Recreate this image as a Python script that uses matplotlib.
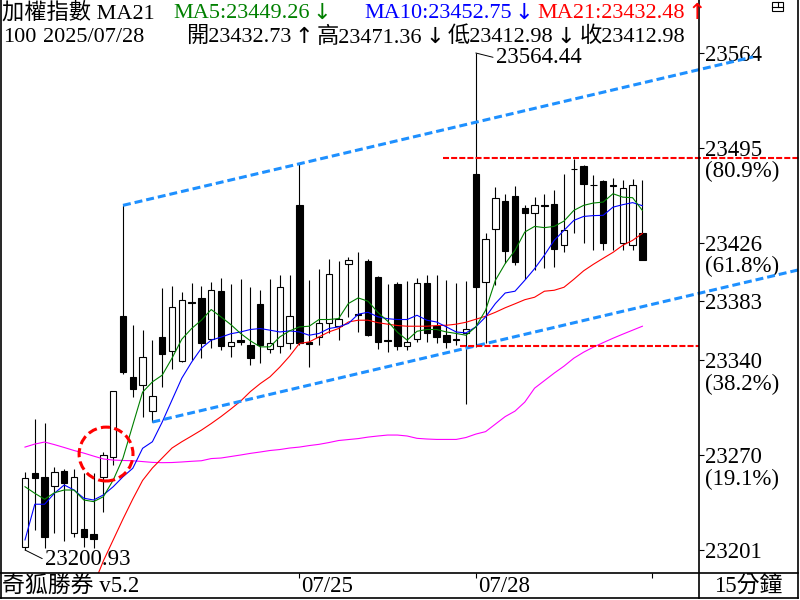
import matplotlib
matplotlib.use("Agg")
import matplotlib.pyplot as plt
import numpy as np
from matplotlib.lines import Line2D
from matplotlib.patches import Ellipse, Rectangle

plt.rcParams['font.family'] = ['Liberation Serif', 'Noto Sans CJK TC', 'DejaVu Sans']

# 15-minute candles, 64 bars
opens = [23203.2, 23257.2, 23254.3, 23247.7, 23258.7, 23213.4, 23216.3, 23212.7, 23254.3, 23268.9,
         23371.9, 23327.3, 23321.5, 23302.5, 23356.6, 23346.7, 23339.4, 23382.5, 23385.0, 23355.1,
         23390.2, 23350.0, 23354.4, 23350.7, 23381.2, 23348.3, 23350.0, 23352.0, 23453.0, 23352.9,
         23356.8, 23366.6, 23364.8, 23410.4, 23373.9, 23412.1, 23400.6, 23354.4, 23395.8, 23350.2,
         23355.6, 23396.5, 23364.6, 23358.0, 23354.9, 23359.3, 23475.6, 23397.0, 23436.0, 23455.9,
         23459.6, 23451.3, 23447.4, 23453.5, 23453.7, 23424.3, 23479.8, 23481.5, 23468.1, 23470.5,
         23467.6, 23425.7, 23424.3, 23432.73]
highs = [23258.0, 23296.7, 23293.8, 23261.6, 23260.2, 23260.2, 23257.2, 23257.2, 23272.6, 23317.5,
         23453.0, 23365.3, 23361.7, 23354.4, 23392.4, 23393.8, 23389.4, 23396.0, 23393.8, 23396.7,
         23399.7, 23395.3, 23399.5, 23393.3, 23390.9, 23399.5, 23401.9, 23401.9, 23483.4, 23398.2,
         23406.7, 23413.5, 23412.3, 23415.2, 23418.9, 23413.5, 23401.3, 23395.3, 23397.0, 23397.7,
         23399.9, 23401.9, 23401.9, 23398.2, 23396.3, 23397.5, 23564.44, 23432.8, 23466.3, 23461.5,
         23466.9, 23453.0, 23459.1, 23461.5, 23464.4, 23476.1, 23487.1, 23482.2, 23475.4, 23471.8,
         23472.9, 23471.2, 23472.5, 23471.36]
lows = [23200.93, 23215.6, 23202.5, 23213.4, 23207.6, 23210.5, 23203.2, 23202.5, 23228.7, 23263.1,
        23329.5, 23312.7, 23298.1, 23294.5, 23320.0, 23333.2, 23338.3, 23339.8, 23341.2, 23348.5,
        23347.1, 23342.0, 23350.7, 23336.1, 23337.4, 23345.1, 23344.7, 23348.3, 23350.7, 23334.9,
        23350.7, 23359.3, 23354.4, 23371.4, 23360.5, 23357.3, 23347.8, 23345.4, 23347.1, 23347.1,
        23352.7, 23352.7, 23352.0, 23349.0, 23350.7, 23307.4, 23349.5, 23352.0, 23394.5, 23410.8,
        23409.2, 23399.5, 23405.5, 23407.2, 23407.9, 23418.9, 23432.8, 23425.4, 23420.1, 23420.1,
        23420.6, 23420.1, 23420.1, 23412.98]
closes = [23253.6, 23253.6, 23210.5, 23258.0, 23249.9, 23254.3, 23210.5, 23209.0, 23270.4, 23317.1,
          23331.0, 23318.6, 23342.0, 23313.5, 23344.2, 23378.5, 23383.6, 23381.8, 23352.2, 23390.9,
          23350.2, 23352.7, 23353.1, 23341.7, 23351.2, 23352.0, 23393.3, 23371.9, 23352.4, 23351.8,
          23367.3, 23403.1, 23370.2, 23412.8, 23373.1, 23358.4, 23353.1, 23354.0, 23350.2, 23352.7,
          23396.5, 23359.7, 23356.8, 23353.1, 23354.7, 23362.2, 23393.3, 23428.7, 23458.6, 23419.6,
          23411.6, 23447.4, 23453.0, 23452.5, 23420.8, 23435.2, 23479.6, 23468.8, 23467.9, 23425.4,
          23467.4, 23465.6, 23468.1, 23412.98]

ma5 = [23247.2, 23242.4, 23238.0, 23242.8, 23244.8, 23244.8, 23237.5, 23236.3, 23239.9, 23252.1,
       23268.2, 23292.3, 23316.4, 23323.9, 23328.8, 23341.2, 23355.1, 23362.9, 23369.0, 23376.8,
       23371.4, 23365.8, 23359.3, 23353.9, 23349.5, 23349.5, 23356.8, 23361.2, 23364.1, 23364.6,
       23369.5, 23369.5, 23370.2, 23381.2, 23385.3, 23382.9, 23374.8, 23368.3, 23360.2, 23354.4,
       23360.9, 23362.2, 23362.2, 23360.4, 23359.3, 23358.0, 23364.1, 23376.3, 23398.2, 23410.4,
       23420.1, 23433.5, 23437.6, 23436.7, 23437.6, 23441.5, 23449.3, 23453.0, 23454.7, 23455.4,
       23461.5, 23459.0, 23458.6, 23449.26]
ma10 = [23208.3, 23234.4, 23234.4, 23242.4, 23248.5, 23244.8, 23238.8, 23237.5, 23241.2, 23247.2,
        23254.5, 23260.7, 23275.3, 23280.1, 23294.5, 23310.6, 23326.6, 23338.3, 23348.5, 23354.4,
        23356.6, 23359.1, 23360.4, 23362.2, 23362.9, 23361.7, 23360.4, 23361.2, 23360.4, 23358.0,
        23359.3, 23362.9, 23364.1, 23366.6, 23373.4, 23374.8, 23371.5, 23370.1, 23369.5, 23369.5,
        23372.6, 23369.0, 23367.7, 23364.1, 23360.4, 23359.7, 23364.1, 23371.4, 23381.2, 23388.9,
        23390.2, 23398.2, 23406.7, 23416.5, 23427.4, 23434.7, 23442.0, 23444.9, 23445.5, 23445.7,
        23451.7, 23453.5, 23455.0, 23452.75]
ma21 = [np.nan, np.nan, np.nan, np.nan, np.nan, np.nan, np.nan, 23175.4, 23193.0, 23208.3,
        23223.6, 23238.2, 23251.8, 23260.9, 23268.2, 23275.5, 23280.1, 23284.3, 23288.6, 23293.4,
        23298.5, 23304.0, 23309.8, 23316.8, 23322.6, 23327.6, 23334.7, 23342.7, 23352.0, 23353.1,
        23356.8, 23360.4, 23362.9, 23367.7, 23369.0, 23369.0, 23367.2, 23366.1, 23365.1, 23364.6,
        23364.6, 23364.6, 23365.1, 23365.3, 23366.1, 23367.5, 23369.7, 23371.9, 23374.8, 23378.1,
        23381.0, 23384.0, 23385.8, 23390.2, 23390.9, 23393.1, 23398.9, 23405.1, 23409.9, 23414.3,
        23418.6, 23423.8, 23427.4, 23432.48]
ma60 = [23276.2, 23278.4, 23279.9, 23278.0, 23275.9, 23273.7, 23271.8, 23269.6, 23267.5, 23266.7,
        23266.4, 23266.2, 23265.6, 23265.0, 23264.8, 23264.9, 23265.3, 23265.8, 23266.2, 23267.8,
        23268.2, 23269.3, 23270.4, 23271.6, 23272.6, 23273.7, 23274.4, 23275.5, 23276.2, 23277.3,
        23278.2, 23279.5, 23281.0, 23281.7, 23282.4, 23283.5, 23284.3, 23285.0, 23285.0, 23284.3,
        23282.6, 23282.1, 23281.8, 23281.8, 23281.8, 23283.2, 23285.7, 23287.5, 23293.0, 23298.5,
        23302.5, 23309.1, 23319.3, 23324.8, 23330.3, 23335.4, 23341.2, 23345.6, 23349.3, 23352.6,
        23355.8, 23358.8, 23361.7, 23364.6]

fib_levels = [23200.93, 23270.36, 23339.79, 23382.69, 23425.57, 23494.99, 23564.44]
fib_labels = ['23201', '23270', '23340', '23383', '23426', '23495', '23564']
fib_pcts = ['', '(19.1%)', '(38.2%)', '', '(61.8%)', '(80.9%)', '']

day_ticks = [28, 46, 64]
day_labels = ['07/25', '07/28', '']

# drawn objects
upper_trend_x = [10, 74.3]
upper_trend_y = [23453.0, 23561.6]
lower_trend_x = [13, 79.1]
lower_trend_y = [23294.5, 23406.1]
resist_x = [42.65, 79.1]
resist_y = 23488.0
support_x = [44.4, 68.78]
support_y = 23350.0
circle_xy = (8.27, 23271.1)
circle_w = 5.5
circle_h = 39.4

FS = 16.5
HFS = 16
W, H = 800, 600


def fx(px):
    return px / W


def fy(py):
    return 1 - py / H


fig = plt.figure(figsize=(8, 6), dpi=100)
fig.patch.set_facecolor('white')
ax = fig.add_axes([0, fy(573), fx(699), (573) / H])
ax.set_xlim(-2.551, 68.776)
ax.set_ylim(23184.1, 23603.2)
for s in ax.spines.values():
    s.set_visible(False)

x = np.arange(len(opens))
o = np.array(opens)
c = np.array(closes)
up = c >= o
ax.vlines(x, lows, highs, colors='black', linewidth=0.8, zorder=2)
ax.bar(x, np.maximum(np.abs(c - o), 0.3), bottom=np.minimum(o, c), width=0.66,
       color=np.where(up, 'white', 'black'), edgecolor='black', linewidth=0.8, zorder=3)

ax.plot(x, ma60, color='#FF00FF', lw=0.8, zorder=4)
ax.plot(x, ma21, color='#FF0000', lw=0.8, zorder=4)
ax.plot(x, ma10, color='#0000FF', lw=0.8, zorder=4)
ax.plot(x, ma5, color='#008000', lw=0.8, zorder=4)

blue = '#1E90FF'
ax.plot(upper_trend_x, upper_trend_y, color=blue, lw=2.2, ls=(0, (2.6, 1.3)), clip_on=False, zorder=5)
ax.plot(lower_trend_x, lower_trend_y, color=blue, lw=2.2, ls=(0, (2.6, 1.3)), clip_on=False, zorder=5)
ax.plot(resist_x, [resist_y] * 2, color='#FF0000', lw=1.5, ls=(0, (2.9, 1.0)), clip_on=False, zorder=5)
ax.plot(support_x, [support_y] * 2, color='#FF0000', lw=1.5, ls=(0, (2.9, 1.0)), clip_on=False, zorder=5)
ax.add_patch(Ellipse(circle_xy, circle_w, circle_h, fill=False, edgecolor='#FF0000', lw=2.2,
                     ls=(0, (3, 1.4)), zorder=5))

# high / low labels
i_lo = int(np.argmin(lows))
i_hi = int(np.argmax(highs))
ax.annotate(f"{lows[i_lo]:.2f}", xy=(i_lo, lows[i_lo]), xytext=(20, -10), textcoords='offset pixels',
            ha='left', va='center', fontsize=FS,
            arrowprops=dict(arrowstyle='-', color='black', lw=0.7, shrinkA=0, shrinkB=0, relpos=(0, 0.5)))
ax.annotate(f"{highs[i_hi]:.2f}", xy=(i_hi, highs[i_hi]), xytext=(20, -5), textcoords='offset pixels',
            ha='left', va='center', fontsize=FS,
            arrowprops=dict(arrowstyle='-', color='black', lw=0.7, shrinkA=0, shrinkB=0, relpos=(0, 0.5)))

# right price axis
ax.yaxis.tick_right()
ax.set_yticks(fib_levels)
ax.set_yticklabels(fib_labels)
ax.tick_params(axis='y', direction='out', length=3.6, width=0.8, pad=1, labelsize=FS)
for lvl, pct in zip(fib_levels, fib_pcts):
    if pct:
        ax.annotate(pct, xy=(1, lvl), xycoords=('axes fraction', 'data'), xytext=(6, -24),
                    textcoords='offset pixels', ha='left', va='center', fontsize=FS, annotation_clip=False)

ax.set_xticks(day_ticks)
ax.tick_params(axis='x', direction='out', length=3.6, width=0.8, labelbottom=False)
for t, lab in zip(day_ticks, day_labels):
    ax.annotate(lab, xy=(t, 0), xycoords=('data', 'axes fraction'), xytext=(2, -13),
                textcoords='offset pixels', ha='left', va='center', fontsize=FS, annotation_clip=False)

# header: pieces laid out left to right, arrows drawn as separate glyphs
renderer = fig.canvas.get_renderer()


def arrow_of(vals):
    return "↓" if vals[-1] < vals[-2] else "↑"


def header_line(pieces, ypx):
    cursor = 0
    for text, anchor, col, arr in pieces:
        xs = max(anchor, cursor)
        t = fig.text(fx(xs), fy(ypx), text, color=col, fontsize=HFS, ha='left', va='center')
        cursor = t.get_window_extent(renderer).x1 + 6
        if arr:
            a = fig.text(fx(cursor - 3), fy(ypx), arr, color=col, fontsize=HFS, ha='left', va='center',
                         family='DejaVu Sans')
            cursor = a.get_window_extent(renderer).x1 + 4


header_line([("加權指數 MA21", 2, 'black', ''),
             (f"MA5:{ma5[-1]:.2f}", 173, '#008000', arrow_of(ma5)),
             (f"MA10:{ma10[-1]:.2f}", 364, '#0000FF', arrow_of(ma10)),
             (f"MA21:{ma21[-1]:.2f}", 528, '#FF0000', arrow_of(ma21))], 13)
header_line([("100", 3, 'black', ''),
             ("2025/07/28", 43, 'black', ''),
             (f"開{opens[-1]:.2f}", 186, 'black', "↑"),
             (f"高{highs[-1]:.2f}", 303, 'black', "↓"),
             (f"低{lows[-1]:.2f}", 443, 'black', "↓"),
             (f"收{closes[-1]:.2f}", 578, 'black', '')], 37)

fig.text(fx(2), fy(586), "奇狐勝券 v5.2", fontsize=FS, ha='left', va='center')
fig.text(fx(748), fy(586), "15分鐘", fontsize=FS, ha='center', va='center')

# frame lines
frame = [((0.8, 0.8), (0, 598)), ((797.5, 797.5), (0, 598)), ((0, 798), (598, 598)),
         ((0, 798), (573, 573)), ((699, 699), (0, 598))]
for xs, ys in frame:
    fig.add_artist(Line2D([fx(v) for v in xs], [fy(v) for v in ys], color='black', lw=1.2))

# window icon
fig.add_artist(Rectangle((fx(772), fy(11)), 11 / W, 9 / H, fill=False, edgecolor='black', lw=0.8))
fig.add_artist(Line2D([fx(772), fx(783)], [fy(6.5), fy(6.5)], color='black', lw=0.8))
fig.add_artist(Line2D([fx(777.5), fx(777.5)], [fy(2), fy(6.5)], color='black', lw=0.8))

fig.savefig('out.png', dpi=100, facecolor='white')
